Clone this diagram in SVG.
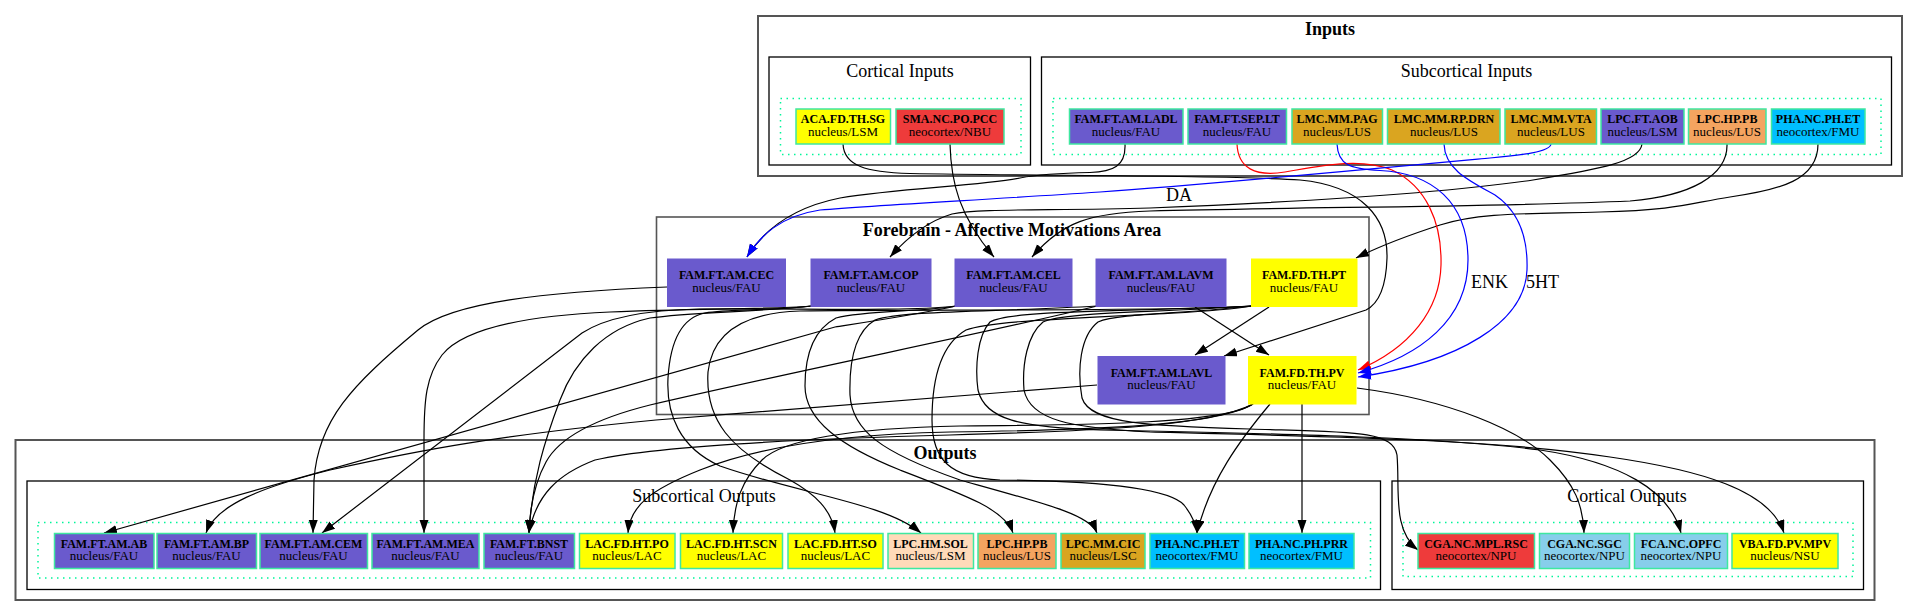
<svg xmlns="http://www.w3.org/2000/svg" width="1919" height="616" viewBox="0 0 1919 616">
<style>
.outer{fill:none;stroke:#555;stroke-width:2}
.inner{fill:none;stroke:#000;stroke-width:1.3}
.dots{fill:none;stroke:#00F59A;stroke-width:1.5;stroke-dasharray:1.5,4.5}
.ct{font-family:"Liberation Serif",serif;font-size:18px;text-anchor:middle}
.ctb{font-family:"Liberation Serif",serif;font-size:18px;font-weight:bold;text-anchor:middle}
.b{font-family:"Liberation Serif",serif;font-size:12px;font-weight:bold;text-anchor:middle}
.r{font-family:"Liberation Serif",serif;font-size:13px;text-anchor:middle}
.el{font-family:"Liberation Serif",serif;font-size:18px}
.nb{stroke:#3EE8A0;stroke-width:1.5}
.sb{fill:#6A5ACD}.ye{fill:#FFFF00}.rd{fill:#EE3B3B}.gd{fill:#DAA520}.sa{fill:#F4A460}.ds{fill:#00BFFF}.pp{fill:#FFDAB9}.sk{fill:#87CEEB}
.e{fill:none;stroke:#000;stroke-width:1.2}
.eb{fill:none;stroke:#0000FF;stroke-width:1.2}
.er{fill:none;stroke:#FF0000;stroke-width:1.2}
.e{marker-end:url(#ak)}.eb{marker-end:url(#abl)}.er{marker-end:url(#ard)}
</style>
<defs>
<marker id="ak" markerUnits="userSpaceOnUse" markerWidth="14" markerHeight="10" refX="13" refY="4.5" orient="auto"><path d="M0,0 L13,4.5 L0,9 z" fill="#000"/></marker>
<marker id="abl" markerUnits="userSpaceOnUse" markerWidth="14" markerHeight="10" refX="13" refY="4.5" orient="auto"><path d="M0,0 L13,4.5 L0,9 z" fill="#0000FF"/></marker>
<marker id="ard" markerUnits="userSpaceOnUse" markerWidth="14" markerHeight="10" refX="13" refY="4.5" orient="auto"><path d="M0,0 L13,4.5 L0,9 z" fill="#FF0000"/></marker>
</defs>
<rect width="1919" height="616" fill="#fff"/>

<g id="cluster-inputs">
<rect class="outer" x="758" y="16" width="1144" height="160"/>
<text class="ctb" x="1330" y="35">Inputs</text>
<rect class="inner" x="769" y="57" width="261.5" height="108"/>
<text class="ct" x="900" y="77">Cortical Inputs</text>
<rect class="dots" x="780.5" y="98.5" width="240.5" height="56"/>
<rect class="inner" x="1041.5" y="57" width="850" height="108"/>
<text class="ct" x="1466.5" y="77">Subcortical Inputs</text>
<rect class="dots" x="1053" y="98.5" width="828" height="56"/>
</g>

<g id="cluster-forebrain">
<rect class="outer" x="656.5" y="217" width="712.5" height="197.5" style="stroke-width:1.6"/>
<text class="ctb" x="1012" y="236">Forebrain - Affective Motivations Area</text>
</g>

<g id="cluster-outputs">
<rect class="outer" x="15.5" y="440" width="1859" height="160"/>
<text class="ctb" x="945" y="459">Outputs</text>
<rect class="inner" x="27" y="481" width="1353.5" height="108.5"/>
<text class="ct" x="704" y="502">Subcortical Outputs</text>
<rect class="dots" x="38" y="522.5" width="1332.5" height="55.5"/>
<rect class="inner" x="1392" y="481" width="471.5" height="108.5"/>
<text class="ct" x="1627" y="502">Cortical Outputs</text>
<rect class="dots" x="1403" y="522.5" width="450" height="54"/>
</g>

<g id="edges">
<path class="e" d="M843,144 C844,166 866,172 910,173.5 C1050,176 1230,175 1300,180 C1362,186 1388,218 1387,258 C1386,290 1378,304 1366,310 L1224,356"/>
<path class="e" d="M950,144 C951,182 959,216 994,257"/>
<path class="e" d="M1125,144 C1126,166 1113,172 1090,172.5 C1060,173 1040,174 1020,178 C980,186 900,188 840,198 C795,207 765,228 747,257"/>
<path class="e" d="M1642,144 C1640,162 1600,169 1533,180 C1450,192 1300,202 1150,208 C1050,211 980,208 952,214 C925,222 905,240 890,257"/>
<path class="e" d="M1727,144 C1728,176 1690,196 1630,201 C1500,207 1300,207 1150,211 C1090,213 1062,222 1032,257"/>
<path class="e" d="M1818,144 C1818,180 1780,190 1730,197 C1690,203 1680,210 1600,212 C1530,214 1480,212 1440,225 C1400,238 1372,250 1356,258"/>
<path class="er" d="M1237,144 C1238,168 1255,177 1285,172 C1320,166 1360,157 1392,170 C1426,186 1442,222 1441,265 C1440,310 1410,348 1358,370"/>
<path class="eb" d="M1337,144 C1338,165 1350,169 1380,170.5 C1432,173 1468,202 1468,260 C1468,320 1420,356 1358,373"/>
<path class="eb" d="M1444,144 C1445,170 1470,181 1495,195 C1520,212 1528,240 1527,270 C1525,322 1460,362 1358,377"/>
<path class="eb" d="M1551,144 C1550,152 1522,155 1490,158 C1350,171 1200,185 1100,192 C980,200 880,205 820,210 C780,216 760,236 747,257"/>
<text class="el" x="1166" y="201">DA</text>
<text class="el" x="1471" y="288">ENK</text>
<text class="el" x="1526" y="288">5HT</text>

<path class="e" d="M1269,307 L1195,355"/>
<path class="e" d="M1195,307 L1269,355"/>

<path class="e" d="M667,287 C545,292 452,302 418,330 C352,385 318,420 314,480 L313,533"/>
<path class="e" d="M812,306 C760,310 700,308 610,312 C520,316 462,330 442,355 C426,376 424,400 424,440 L424,533"/>
<path class="e" d="M812,306 C770,311 730,309 705,313 C680,318 670,345 668,378 C666,415 680,448 720,466 C800,494 885,503 921,533"/>
<path class="e" d="M812,306 C760,312 690,312 650,318 C605,328 575,360 560,400 C545,440 532,480 529,533"/>
<path class="e" d="M956,306 C900,312 800,308 700,309 C645,310 605,318 582,333 L322,533"/>
<path class="e" d="M956,306 C920,314 880,320 835,327 L104,533"/>
<path class="e" d="M956,306 C925,312 865,310 836,318 C813,330 805,356 805,386 C805,420 840,446 900,470 C968,496 1005,510 1013,533"/>
<path class="e" d="M1097,306 C1000,312 905,310 875,320 C855,332 849,360 850,395 C852,430 880,452 960,480 C1050,505 1090,515 1097,533"/>
<path class="e" d="M1097,306 C1000,330 800,370 650,405 C590,420 558,440 546,462 C535,482 530,505 529,533"/>
<path class="e" d="M1252,306 C1150,312 900,309 800,311 C740,313 712,336 708,372 C705,420 730,450 790,480 C815,494 832,510 835,533"/>
<path class="e" d="M1252,306 C1150,318 1000,317 966,330 C940,345 932,380 932,420 C932,460 950,478 1000,480 C1100,481 1168,488 1184,505 C1192,515 1196,525 1197,533"/>
<path class="e" d="M1252,306 C1120,312 1010,310 990,322 C977,336 975,368 978,390 C985,420 1020,427 1100,430 C1300,434 1450,438 1540,450 C1620,462 1670,490 1681,533"/>
<path class="e" d="M1252,306 C1150,313 1062,312 1043,322 C1027,335 1022,365 1024,390 C1030,420 1070,428 1150,432 C1350,437 1500,440 1610,457 C1700,470 1770,490 1784,533"/>
<path class="e" d="M1252,306 C1200,315 1120,312 1098,322 C1080,336 1077,370 1082,398 C1090,424 1150,426 1250,429 C1350,432 1393,430 1397,455 C1400,490 1392,530 1418,550"/>
<path class="e" d="M1253,404 C1220,425 1100,430 950,432 C850,434 760,446 700,470 C650,490 630,506 628,533"/>
<path class="e" d="M1253,404 C1225,423 1100,425 960,426 C850,428 782,440 762,460 C742,480 734,502 733,533"/>
<path class="e" d="M1253,404 C1210,426 1100,431 950,435 C800,439 655,446 595,460 C558,474 536,495 529,533"/>
<path class="e" d="M1270,404 C1240,440 1210,480 1197,533"/>
<path class="e" d="M1302,404 L1302,533"/>
<path class="e" d="M1357,388 C1450,400 1520,430 1550,460 C1575,485 1583,505 1584,533"/>
<path class="e" d="M1097,385 L656,420 C500,435 420,450 330,470 C262,487 216,505 206,533"/>
</g>

<g id="n-aca"><rect class="ye nb" x="796" y="109" width="94.5" height="35"/><text class="b" x="843" y="123">ACA.FD.TH.SG</text><text class="r" x="843" y="135.5">nucleus/LSM</text></g>
<g id="n-sma"><rect class="rd nb" x="896" y="109" width="108" height="35"/><text class="b" x="950" y="123">SMA.NC.PO.PCC</text><text class="r" x="950" y="135.5">neocortex/NBU</text></g>
<g id="n-ladl"><rect class="sb nb" x="1069.5" y="109" width="113.5" height="35"/><text class="b" x="1126" y="123">FAM.FT.AM.LADL</text><text class="r" x="1126" y="135.5">nucleus/FAU</text></g>
<g id="n-seplt"><rect class="sb nb" x="1188" y="109" width="98.5" height="35"/><text class="b" x="1237" y="123">FAM.FT.SEP.LT</text><text class="r" x="1237" y="135.5">nucleus/FAU</text></g>
<g id="n-pag"><rect class="gd nb" x="1292" y="109" width="90.5" height="35"/><text class="b" x="1337" y="123">LMC.MM.PAG</text><text class="r" x="1337" y="135.5">nucleus/LUS</text></g>
<g id="n-drn"><rect class="gd nb" x="1387.5" y="109" width="112.5" height="35"/><text class="b" x="1444" y="123">LMC.MM.RP.DRN</text><text class="r" x="1444" y="135.5">nucleus/LUS</text></g>
<g id="n-vta"><rect class="gd nb" x="1505" y="109" width="91.5" height="35"/><text class="b" x="1551" y="123">LMC.MM.VTA</text><text class="r" x="1551" y="135.5">nucleus/LUS</text></g>
<g id="n-aob"><rect class="sb nb" x="1601" y="109" width="83" height="35"/><text class="b" x="1642.5" y="123">LPC.FT.AOB</text><text class="r" x="1642.5" y="135.5">nucleus/LSM</text></g>
<g id="n-hppb-in"><rect class="sa nb" x="1688.5" y="109" width="77.5" height="35"/><text class="b" x="1727" y="123">LPC.HP.PB</text><text class="r" x="1727" y="135.5">nucleus/LUS</text></g>
<g id="n-phet-in"><rect class="ds nb" x="1771.5" y="109" width="93.5" height="35"/><text class="b" x="1818" y="123">PHA.NC.PH.ET</text><text class="r" x="1818" y="135.5">neocortex/FMU</text></g>

<g id="n-cec"><rect class="sb" x="667" y="258.5" width="119" height="48.5"/><text class="b" x="726.5" y="279">FAM.FT.AM.CEC</text><text class="r" x="726.5" y="291.5">nucleus/FAU</text></g>
<g id="n-cop"><rect class="sb" x="810.5" y="258.5" width="121" height="48.5"/><text class="b" x="871" y="279">FAM.FT.AM.COP</text><text class="r" x="871" y="291.5">nucleus/FAU</text></g>
<g id="n-cel"><rect class="sb" x="954.5" y="258.5" width="118" height="48.5"/><text class="b" x="1013.5" y="279">FAM.FT.AM.CEL</text><text class="r" x="1013.5" y="291.5">nucleus/FAU</text></g>
<g id="n-lavm"><rect class="sb" x="1095.5" y="258.5" width="131" height="48.5"/><text class="b" x="1161" y="279">FAM.FT.AM.LAVM</text><text class="r" x="1161" y="291.5">nucleus/FAU</text></g>
<g id="n-pt"><rect class="ye" x="1251" y="258.5" width="106.5" height="48.5"/><text class="b" x="1304" y="279">FAM.FD.TH.PT</text><text class="r" x="1304" y="291.5">nucleus/FAU</text></g>
<g id="n-lavl"><rect class="sb" x="1097.5" y="356" width="128" height="48.5"/><text class="b" x="1161.5" y="376.5">FAM.FT.AM.LAVL</text><text class="r" x="1161.5" y="389">nucleus/FAU</text></g>
<g id="n-pv"><rect class="ye" x="1248" y="356" width="108.5" height="48.5"/><text class="b" x="1302" y="376.5">FAM.FD.TH.PV</text><text class="r" x="1302" y="389">nucleus/FAU</text></g>

<g id="n-ab"><rect class="sb nb" x="54.5" y="533.5" width="99.5" height="35"/><text class="b" x="104" y="547.5">FAM.FT.AM.AB</text><text class="r" x="104" y="560">nucleus/FAU</text></g>
<g id="n-bp"><rect class="sb nb" x="157" y="533.5" width="99.5" height="35"/><text class="b" x="206.5" y="547.5">FAM.FT.AM.BP</text><text class="r" x="206.5" y="560">nucleus/FAU</text></g>
<g id="n-cem"><rect class="sb nb" x="260" y="533.5" width="107.5" height="35"/><text class="b" x="313.5" y="547.5">FAM.FT.AM.CEM</text><text class="r" x="313.5" y="560">nucleus/FAU</text></g>
<g id="n-mea"><rect class="sb nb" x="372" y="533.5" width="107" height="35"/><text class="b" x="425.5" y="547.5">FAM.FT.AM.MEA</text><text class="r" x="425.5" y="560">nucleus/FAU</text></g>
<g id="n-bnst"><rect class="sb nb" x="484" y="533.5" width="90.5" height="35"/><text class="b" x="529" y="547.5">FAM.FT.BNST</text><text class="r" x="529" y="560">nucleus/FAU</text></g>
<g id="n-po"><rect class="ye nb" x="579.5" y="533.5" width="95.5" height="35"/><text class="b" x="627" y="547.5">LAC.FD.HT.PO</text><text class="r" x="627" y="560">nucleus/LAC</text></g>
<g id="n-scn"><rect class="ye nb" x="680.5" y="533.5" width="102" height="35"/><text class="b" x="731.5" y="547.5">LAC.FD.HT.SCN</text><text class="r" x="731.5" y="560">nucleus/LAC</text></g>
<g id="n-so"><rect class="ye nb" x="788" y="533.5" width="95" height="35"/><text class="b" x="835.5" y="547.5">LAC.FD.HT.SO</text><text class="r" x="835.5" y="560">nucleus/LAC</text></g>
<g id="n-sol"><rect class="pp nb" x="888" y="533.5" width="85.5" height="35"/><text class="b" x="930.5" y="547.5">LPC.HM.SOL</text><text class="r" x="930.5" y="560">nucleus/LSM</text></g>
<g id="n-pb-out"><rect class="sa nb" x="978" y="533.5" width="78" height="35"/><text class="b" x="1017" y="547.5">LPC.HP.PB</text><text class="r" x="1017" y="560">nucleus/LUS</text></g>
<g id="n-cic"><rect class="gd nb" x="1061" y="533.5" width="84" height="35"/><text class="b" x="1103" y="547.5">LPC.MM.CIC</text><text class="r" x="1103" y="560">nucleus/LSC</text></g>
<g id="n-phet-out"><rect class="ds nb" x="1150" y="533.5" width="94.5" height="35"/><text class="b" x="1197" y="547.5">PHA.NC.PH.ET</text><text class="r" x="1197" y="560">neocortex/FMU</text></g>
<g id="n-prr"><rect class="ds nb" x="1249" y="533.5" width="105" height="35"/><text class="b" x="1301.5" y="547.5">PHA.NC.PH.PRR</text><text class="r" x="1301.5" y="560">neocortex/FMU</text></g>
<g id="n-rsc"><rect class="rd nb" x="1418" y="533.5" width="116.5" height="35"/><text class="b" x="1476" y="547.5">CGA.NC.MPL.RSC</text><text class="r" x="1476" y="560">neocortex/NPU</text></g>
<g id="n-sgc"><rect class="sk nb" x="1539.5" y="533.5" width="90" height="35"/><text class="b" x="1584.5" y="547.5">CGA.NC.SGC</text><text class="r" x="1584.5" y="560">neocortex/NPU</text></g>
<g id="n-opfc"><rect class="sk nb" x="1634.5" y="533.5" width="93" height="35"/><text class="b" x="1681" y="547.5">FCA.NC.OPFC</text><text class="r" x="1681" y="560">neocortex/NPU</text></g>
<g id="n-mpv"><rect class="ye nb" x="1732" y="533.5" width="106" height="35"/><text class="b" x="1785" y="547.5">VBA.FD.PV.MPV</text><text class="r" x="1785" y="560">nucleus/NSU</text></g>
</svg>
